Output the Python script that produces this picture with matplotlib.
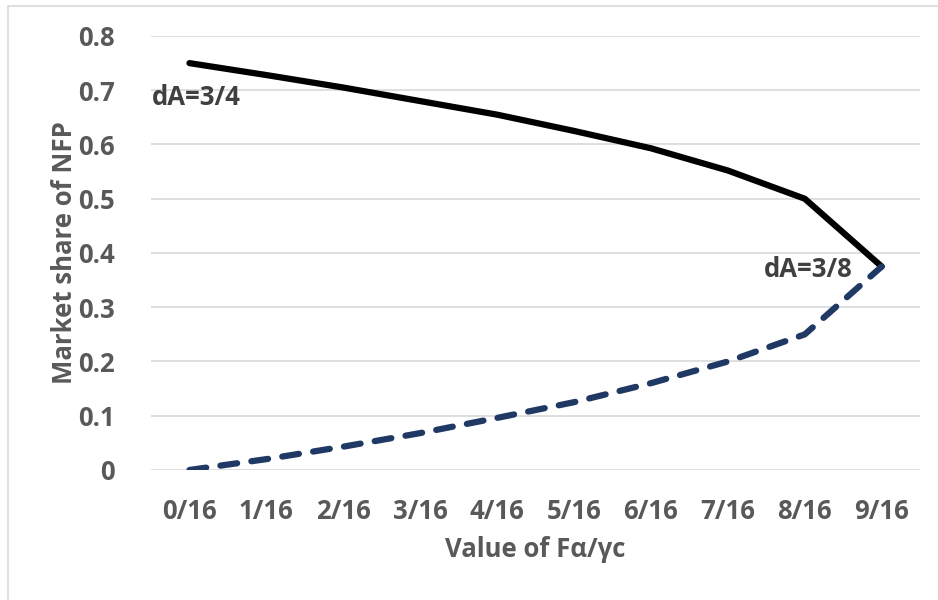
import numpy as np
import matplotlib.pyplot as plt
from matplotlib.patches import Rectangle

# values
categories = ['0/16', '1/16', '2/16', '3/16', '4/16', '5/16', '6/16', '7/16', '8/16', '9/16']
share_high = [0.75, 0.728, 0.705, 0.68, 0.655, 0.625, 0.593, 0.552, 0.5, 0.375]
share_low = [0.0, 0.02, 0.043, 0.068, 0.096, 0.125, 0.16, 0.2, 0.25, 0.375]
y_ticks = [0, 0.1, 0.2, 0.3, 0.4, 0.5, 0.6, 0.7, 0.8]
y_tick_labels = ['0', '0.1', '0.2', '0.3', '0.4', '0.5', '0.6', '0.7', '0.8']

plt.rcParams['font.family'] = ['Open Sans', 'DejaVu Sans']
text_col = '#595959'
fs = 18.5

fig = plt.figure(figsize=(9.38, 6.0), dpi=100)
fig.patches.append(Rectangle((8 / 938, -0.1), 1.2, 1 - 6 / 600 + 0.1, transform=fig.transFigure,
                             fill=False, edgecolor='#D9D9D9', linewidth=1.2, zorder=0))

ax = fig.add_axes([0.161, 0.2167, 0.82, 0.7233])
x = np.arange(len(categories))

ax.plot(x, share_high, color='black', linewidth=4.5, solid_capstyle='round',
        solid_joinstyle='miter', zorder=3)
ax.plot(x, share_low, color='#1F3864', linewidth=4.5, linestyle=(0, (2.7, 2.3)),
        dash_capstyle='round', zorder=3)

ax.set_xlim(-0.5, len(categories) - 0.5)
ax.set_ylim(0, 0.8)
ax.set_yticks(y_ticks)
ax.set_yticklabels(y_tick_labels)
ax.set_xticks(x)
ax.set_xticklabels(categories)
ax.grid(axis='y', color='#D9D9D9', linewidth=1.2)
ax.set_axisbelow(True)
for s in ax.spines.values():
    s.set_visible(False)
ax.tick_params(axis='y', length=0, labelsize=fs, labelcolor=text_col, pad=26)
ax.tick_params(axis='x', length=0, labelsize=fs, labelcolor=text_col, pad=20)
for lbl in ax.get_xticklabels() + ax.get_yticklabels():
    lbl.set_fontweight('bold')

ax.set_ylabel('Market share of NFP', fontsize=fs, fontweight='bold', color=text_col, labelpad=0)
ax.set_xlabel('Value of Fα/γc', fontsize=fs, fontweight='bold', color=text_col, labelpad=8)

ax.text(-0.49, 0.687, 'dA=3/4', fontsize=fs, fontweight='bold', color='#404040',
        ha='left', va='center')
ax.text(8.62, 0.37, 'dA=3/8', fontsize=fs, fontweight='bold', color='#404040',
        ha='right', va='center')

fig.savefig('out.png', dpi=100)
